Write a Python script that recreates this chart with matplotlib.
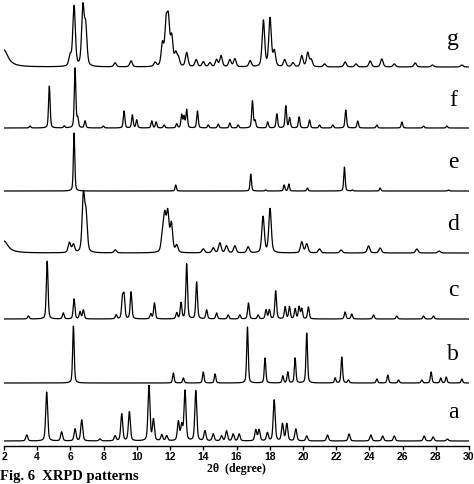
import numpy as np
import matplotlib
matplotlib.use("Agg")
import matplotlib.pyplot as plt

# peak lists: 2theta positions, heights (offset units)
g_pos = [2.0, 5.98, 6.22, 6.75, 6.92, 8.69, 9.65, 11.1, 11.54, 11.76, 11.9, 12.1, 12.34, 12.5,
         13.0, 13.57, 14.0, 14.4, 14.8, 15.07, 15.6, 15.9, 16.82, 17.62, 18.02, 18.28, 18.9,
         19.4, 19.93, 20.29, 20.5, 21.3, 22.54, 23.2, 24.05, 24.75, 25.5, 26.76, 27.8, 29.57]
g_h = [17, 10, 60, 58, 38, 4, 6, 4, 22, 40, 42, 28, 12, 8,
       14, 7, 5, 4, 7, 11, 7, 8, 6, 46, 48, 15, 7,
       4, 11, 14, 7, 3, 5, 3, 6, 8, 3, 4, 2, 2]

f_pos = [3.57, 4.73, 5.63, 6.28, 6.44, 6.88, 7.98, 9.23, 9.73, 9.99, 10.9, 11.16, 11.64, 12.4,
         12.7, 12.84, 13.0, 13.65, 14.3, 14.9, 15.6, 16.1, 16.96, 17.12, 17.88, 18.43, 18.97,
         19.2, 19.77, 20.4, 21.0, 21.8, 22.58, 23.3, 24.45, 25.96, 27.26, 28.67]
f_h = [2, 42, 2, 60, 9, 7, 2, 17, 13, 8, 7, 6, 3, 4,
       13, 11, 18, 17, 3, 4, 5, 3, 27, 7, 6, 14, 22,
       10, 11, 8, 3, 3, 18, 7, 3, 6, 2, 2]

e_pos = [6.22, 12.34, 16.86, 17.76, 18.87, 19.15, 20.27, 22.5, 22.98, 24.65, 28.77]
e_h = [58, 6, 17, 1, 6, 7, 3, 24, 1, 3, 1]

d_pos = [2.0, 5.94, 6.18, 6.78, 6.94, 8.7, 11.54, 11.68, 11.86, 12.08, 12.4, 14.0, 14.6, 15.0,
         15.4, 15.9, 16.7, 17.6, 18.02, 19.93, 20.23, 21.0, 22.3, 23.95, 24.65, 26.86, 28.2]
d_h = [12, 10, 8, 56, 36, 3, 16, 34, 38, 28, 7, 4, 5, 10,
       7, 7, 6, 36, 44, 11, 9, 4, 3, 7, 5, 4, 2]

c_pos = [3.47, 4.6, 5.57, 6.22, 6.58, 6.78, 8.75, 9.13, 9.23, 9.65, 10.84, 11.06, 12.4, 12.66,
         13.0, 13.6, 14.2, 14.8, 15.5, 16.2, 16.72, 17.3, 17.78, 17.98, 18.36, 18.93, 19.19,
         19.53, 19.77, 19.93, 20.33, 22.54, 22.94, 24.25, 25.65, 27.26, 27.86]
c_h = [3, 58, 6, 20, 7, 9, 4, 20, 22, 27, 5, 16, 6, 16,
       55, 37, 9, 6, 4, 4, 16, 4, 9, 9, 28, 12, 12,
       10, 12, 10, 12, 7, 5, 4, 3, 3, 3]

b_pos = [6.18, 12.2, 12.8, 14.0, 14.71, 16.66, 17.72, 18.79, 19.09, 19.53, 20.23, 21.94, 22.34,
         22.74, 24.45, 25.11, 25.76, 27.16, 27.72, 28.3, 28.63, 29.57]
b_h = [57, 10, 5, 11, 9, 56, 25, 7, 11, 25, 50, 5, 26,
       3, 4, 8, 3, 3, 11, 5, 6, 4]

a_pos = [3.37, 4.57, 5.47, 6.28, 6.68, 7.78, 8.69, 9.09, 9.55, 10.73, 11.0, 11.5, 11.8, 12.5,
         12.7, 12.9, 13.55, 14.1, 14.6, 15.1, 15.4, 15.8, 16.16, 17.16, 17.36, 17.86, 18.27,
         18.77, 19.03, 19.57, 20.23, 21.48, 22.78, 24.09, 24.8, 25.5, 27.3, 27.84, 28.7]
a_h = [6, 49, 9, 12, 21, 2, 5, 27, 29, 55, 21, 6, 5, 19,
       15, 50, 50, 10, 7, 5, 10, 7, 7, 11, 11, 8, 41,
       17, 17, 12, 5, 6, 7, 6, 5, 5, 5, 4, 2]

labels = ["a", "b", "c", "d", "e", "f", "g"]
offsets = [5, 63, 127, 193, 255, 318, 379]
widths = [0.07, 0.055, 0.06, 0.09, 0.05, 0.055, 0.09]
peaks = [(a_pos, a_h), (b_pos, b_h), (c_pos, c_h), (d_pos, d_h),
         (e_pos, e_h), (f_pos, f_h), (g_pos, g_h)]


def pattern(x, pos, h, w):
    y = np.zeros_like(x)
    for p, a in zip(pos, h):
        if p <= 2.0:
            # amorphous tail at the low-angle end
            y += a / (1.0 + ((x - p) / 0.3) ** 2)
            continue
        lor = 1.0 / (1.0 + ((x - p) / w) ** 2)
        gau = np.exp(-np.log(2) * ((x - p) / w) ** 2)
        y += a * (0.4 * lor + 0.6 * gau)
    return y


x = np.linspace(2, 30, 3000)

fig = plt.figure(figsize=(4.74, 4.84), dpi=100)
ax = fig.add_axes([4 / 474, 38 / 484, 465 / 474, 446 / 484])

for lab, off, w, (pos, h) in zip(labels, offsets, widths, peaks):
    ax.plot(x, off + pattern(x, pos, h, w), color="black", lw=0.9)
    ax.text(29.05, off + 28, lab, family="Liberation Serif", fontsize=17,
            ha="center", va="center")

ax.set_xlim(2, 30)
ax.set_ylim(0, 446)
ax.set_xticks(range(2, 31, 2))
ax.set_yticks([])
for s in ["left", "right", "top"]:
    ax.spines[s].set_visible(False)
ax.spines["bottom"].set_linewidth(1.0)
ax.tick_params(axis="x", direction="out", length=3, width=1, pad=1, labelsize=7.5)
for t in ax.get_xticklabels():
    t.set_fontweight("bold")
    t.set_family("Liberation Sans")

fig.text(0.498, 1 - 469 / 484, "2θ  (degree)", family="Liberation Serif",
         fontweight="bold", fontsize=8.5, ha="center", va="center")
fig.text(0.0, 1 / 484, "Fig. 6  XRPD patterns", family="Liberation Serif",
         fontweight="bold", fontsize=10.5, ha="left", va="bottom")

fig.savefig("out.png", dpi=100)
